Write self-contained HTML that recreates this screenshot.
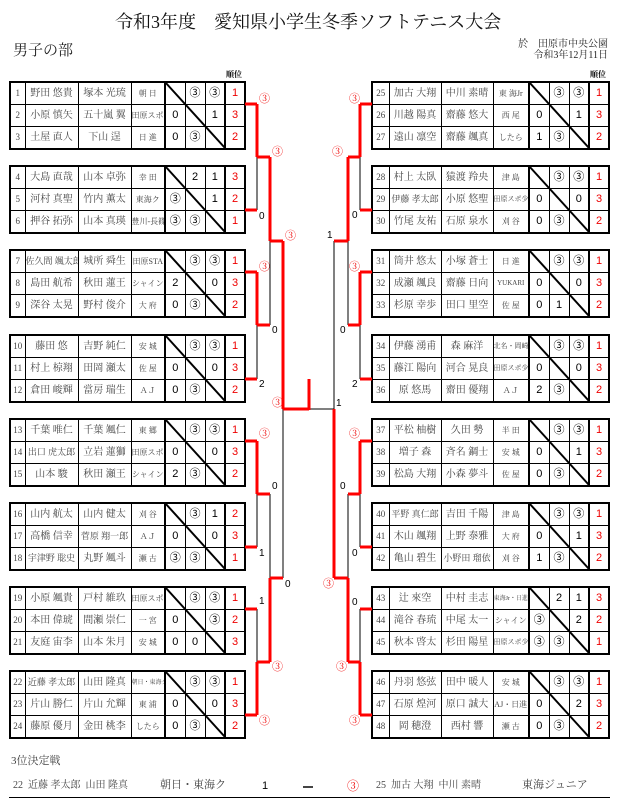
<!DOCTYPE html>
<html><head><meta charset="utf-8"><style>
body{margin:0;width:618px;height:811px;position:relative;background:#fff;overflow:hidden;font-family:"Liberation Serif","Noto Serif CJK JP","Noto Serif CJK SC",serif}
.a{position:absolute;white-space:nowrap;line-height:1}
.t{position:absolute;border-collapse:collapse;border:2px solid #000;table-layout:fixed}
.t td{border:1px solid #000;height:21px;padding:0;text-align:center;font-size:10px;color:#444;white-space:nowrap;overflow:hidden;line-height:1}
.t td.n{font-size:9px}
.t td.tm{font-size:8px}
.t td.c{font-family:"Liberation Sans","Noto Sans CJK JP",sans-serif;font-size:11px;color:#000}
.t td.c1{border-left:2px solid #000}
.t td.r{border-left:2px solid #000;font-family:"Liberation Sans",sans-serif;font-size:11px;color:#e00}
.red{color:#e00}
svg{position:absolute;left:0;top:0}
.l{font-family:"Liberation Sans","Noto Sans CJK JP",sans-serif;font-size:10px}
</style></head><body>
<div class="a" style="left:115px;top:13px;font-size:18px;color:#111">令和3年度　愛知県小学生冬季ソフトテニス大会</div>
<div class="a" style="left:13px;top:44px;font-size:15px;color:#222">男子の部</div>
<div class="a" style="right:10px;top:39px;font-size:10px;color:#222;text-align:right;line-height:11px">於　田原市中央公園<br>令和3年12月11日</div>
<div class="a" style="left:226px;top:71px;font-size:8px;font-weight:bold">順位</div>
<div class="a" style="left:590px;top:71px;font-size:8px;font-weight:bold">順位</div>

<!-- LEFT TABLES -->
<table class="t" style="left:9px;top:81px;width:237px"><colgroup><col style="width:15px"><col style="width:53px"><col style="width:53px"><col style="width:34px"><col style="width:20px"><col style="width:20px"><col style="width:20px"><col style="width:20px"></colgroup>
<tr><td class="n">1</td><td>野田 悠貴</td><td>塚本 光琉</td><td class="tm">朝 日</td><td class="c c1"></td><td class="c red">③</td><td class="c red">③</td><td class="r">1</td></tr>
<tr><td class="n">2</td><td>小原 慎矢</td><td>五十嵐 翼</td><td class="tm">田原スポ少</td><td class="c c1">0</td><td class="c"></td><td class="c">1</td><td class="r">3</td></tr>
<tr><td class="n">3</td><td>土屋 直人</td><td>下山 逞</td><td class="tm">日 進</td><td class="c c1">0</td><td class="c red">③</td><td class="c"></td><td class="r">2</td></tr></table>
<table class="t" style="left:9px;top:165px;width:237px"><colgroup><col style="width:15px"><col style="width:53px"><col style="width:53px"><col style="width:34px"><col style="width:20px"><col style="width:20px"><col style="width:20px"><col style="width:20px"></colgroup>
<tr><td class="n">4</td><td>大島 直哉</td><td>山本 卓弥</td><td class="tm">幸 田</td><td class="c c1"></td><td class="c">2</td><td class="c">1</td><td class="r">3</td></tr>
<tr><td class="n">5</td><td>河村 真聖</td><td>竹内 薫太</td><td class="tm">東海ク</td><td class="c c1 red">③</td><td class="c"></td><td class="c">1</td><td class="r">2</td></tr>
<tr><td class="n">6</td><td>押谷 拓弥</td><td>山本 真瑛</td><td class="tm">豊川-長篠</td><td class="c c1 red">③</td><td class="c red">③</td><td class="c"></td><td class="r">1</td></tr></table>
<table class="t" style="left:9px;top:249px;width:237px"><colgroup><col style="width:15px"><col style="width:53px"><col style="width:53px"><col style="width:34px"><col style="width:20px"><col style="width:20px"><col style="width:20px"><col style="width:20px"></colgroup>
<tr><td class="n">7</td><td style="font-size:9px">佐久間 颯太郎</td><td>城所 舜生</td><td class="tm">田原STA</td><td class="c c1"></td><td class="c red">③</td><td class="c red">③</td><td class="r">1</td></tr>
<tr><td class="n">8</td><td>島田 航希</td><td>秋田 蓮王</td><td class="tm">シャイン</td><td class="c c1">2</td><td class="c"></td><td class="c">0</td><td class="r">3</td></tr>
<tr><td class="n">9</td><td>深谷 太晃</td><td>野村 俊介</td><td class="tm">大 府</td><td class="c c1">0</td><td class="c red">③</td><td class="c"></td><td class="r">2</td></tr></table>
<table class="t" style="left:9px;top:334px;width:237px"><colgroup><col style="width:15px"><col style="width:53px"><col style="width:53px"><col style="width:34px"><col style="width:20px"><col style="width:20px"><col style="width:20px"><col style="width:20px"></colgroup>
<tr><td class="n">10</td><td>藤田 悠</td><td>吉野 純仁</td><td class="tm">安 城</td><td class="c c1"></td><td class="c red">③</td><td class="c red">③</td><td class="r">1</td></tr>
<tr><td class="n">11</td><td>村上 椋翔</td><td>田岡 瀬太</td><td class="tm">佐 屋</td><td class="c c1">0</td><td class="c"></td><td class="c">0</td><td class="r">3</td></tr>
<tr><td class="n">12</td><td>倉田 峻輝</td><td>當房 瑞生</td><td class="tm">ＡＪ</td><td class="c c1">0</td><td class="c red">③</td><td class="c"></td><td class="r">2</td></tr></table>
<table class="t" style="left:9px;top:418px;width:237px"><colgroup><col style="width:15px"><col style="width:53px"><col style="width:53px"><col style="width:34px"><col style="width:20px"><col style="width:20px"><col style="width:20px"><col style="width:20px"></colgroup>
<tr><td class="n">13</td><td>千葉 唯仁</td><td>千葉 颯仁</td><td class="tm">東 郷</td><td class="c c1"></td><td class="c red">③</td><td class="c red">③</td><td class="r">1</td></tr>
<tr><td class="n">14</td><td style="font-size:9px">出口 虎太郎</td><td>立岩 蓮獅</td><td class="tm">田原スポ少</td><td class="c c1">0</td><td class="c"></td><td class="c">0</td><td class="r">3</td></tr>
<tr><td class="n">15</td><td>山本 駿</td><td>秋田 瀬王</td><td class="tm">シャイン</td><td class="c c1">2</td><td class="c red">③</td><td class="c"></td><td class="r">2</td></tr></table>
<table class="t" style="left:9px;top:502px;width:237px"><colgroup><col style="width:15px"><col style="width:53px"><col style="width:53px"><col style="width:34px"><col style="width:20px"><col style="width:20px"><col style="width:20px"><col style="width:20px"></colgroup>
<tr><td class="n">16</td><td>山内 航太</td><td>山内 健太</td><td class="tm">刈 谷</td><td class="c c1"></td><td class="c red">③</td><td class="c">1</td><td class="r">2</td></tr>
<tr><td class="n">17</td><td>高橋 信幸</td><td style="font-size:9px">菅原 翔一郎</td><td class="tm">ＡＪ</td><td class="c c1">0</td><td class="c"></td><td class="c">0</td><td class="r">3</td></tr>
<tr><td class="n">18</td><td style="font-size:9px">宇津野 聡史</td><td>丸野 颯斗</td><td class="tm">瀬 古</td><td class="c c1 red">③</td><td class="c red">③</td><td class="c"></td><td class="r">1</td></tr></table>
<table class="t" style="left:9px;top:586px;width:237px"><colgroup><col style="width:15px"><col style="width:53px"><col style="width:53px"><col style="width:34px"><col style="width:20px"><col style="width:20px"><col style="width:20px"><col style="width:20px"></colgroup>
<tr><td class="n">19</td><td>小原 颯貴</td><td>戸村 維玖</td><td class="tm">田原スポ少</td><td class="c c1"></td><td class="c red">③</td><td class="c red">③</td><td class="r">1</td></tr>
<tr><td class="n">20</td><td>本田 偉琥</td><td>間瀬 崇仁</td><td class="tm">一 宮</td><td class="c c1">0</td><td class="c"></td><td class="c red">③</td><td class="r">2</td></tr>
<tr><td class="n">21</td><td>友庭 宙李</td><td>山本 朱月</td><td class="tm">安 城</td><td class="c c1">0</td><td class="c">0</td><td class="c"></td><td class="r">3</td></tr></table>
<table class="t" style="left:9px;top:670px;width:237px"><colgroup><col style="width:15px"><col style="width:53px"><col style="width:53px"><col style="width:34px"><col style="width:20px"><col style="width:20px"><col style="width:20px"><col style="width:20px"></colgroup>
<tr><td class="n">22</td><td style="font-size:9px">近藤 孝太郎</td><td>山田 隆真</td><td class="tm" style="font-size:6px">朝日・東海ク</td><td class="c c1"></td><td class="c red">③</td><td class="c red">③</td><td class="r">1</td></tr>
<tr><td class="n">23</td><td>片山 勝仁</td><td>片山 允輝</td><td class="tm">東 浦</td><td class="c c1">0</td><td class="c"></td><td class="c">0</td><td class="r">3</td></tr>
<tr><td class="n">24</td><td>藤原 優月</td><td>金田 桃李</td><td class="tm">したら</td><td class="c c1">0</td><td class="c red">③</td><td class="c"></td><td class="r">2</td></tr></table>

<!-- RIGHT TABLES -->
<table class="t" style="left:371px;top:81px;width:239px"><colgroup><col style="width:17px"><col style="width:52px"><col style="width:52px"><col style="width:36px"><col style="width:20px"><col style="width:20px"><col style="width:20px"><col style="width:20px"></colgroup>
<tr><td class="n">25</td><td>加古 大翔</td><td>中川 素晴</td><td class="tm">東 海Jr</td><td class="c c1"></td><td class="c red">③</td><td class="c red">③</td><td class="r">1</td></tr>
<tr><td class="n">26</td><td>川越 陽真</td><td>齋藤 悠大</td><td class="tm">西 尾</td><td class="c c1">0</td><td class="c"></td><td class="c">1</td><td class="r">3</td></tr>
<tr><td class="n">27</td><td>遠山 凛空</td><td>齋藤 颯真</td><td class="tm">したら</td><td class="c c1">1</td><td class="c red">③</td><td class="c"></td><td class="r">2</td></tr></table>
<table class="t" style="left:371px;top:165px;width:239px"><colgroup><col style="width:17px"><col style="width:52px"><col style="width:52px"><col style="width:36px"><col style="width:20px"><col style="width:20px"><col style="width:20px"><col style="width:20px"></colgroup>
<tr><td class="n">28</td><td>村上 太臥</td><td>猿渡 羚央</td><td class="tm">津 島</td><td class="c c1"></td><td class="c red">③</td><td class="c red">③</td><td class="r">1</td></tr>
<tr><td class="n">29</td><td style="font-size:9px">伊藤 孝太郎</td><td>小原 悠聖</td><td class="tm" style="font-size:7px">田原スポ少</td><td class="c c1">0</td><td class="c"></td><td class="c">0</td><td class="r">3</td></tr>
<tr><td class="n">30</td><td>竹尾 友祐</td><td>石原 泉水</td><td class="tm">刈 谷</td><td class="c c1">0</td><td class="c red">③</td><td class="c"></td><td class="r">2</td></tr></table>
<table class="t" style="left:371px;top:249px;width:239px"><colgroup><col style="width:17px"><col style="width:52px"><col style="width:52px"><col style="width:36px"><col style="width:20px"><col style="width:20px"><col style="width:20px"><col style="width:20px"></colgroup>
<tr><td class="n">31</td><td>筒井 悠太</td><td>小塚 蒼士</td><td class="tm">日 進</td><td class="c c1"></td><td class="c red">③</td><td class="c red">③</td><td class="r">1</td></tr>
<tr><td class="n">32</td><td>成瀬 颯良</td><td>齋藤 日向</td><td class="tm" style="font-size:7px">YUKARI</td><td class="c c1">0</td><td class="c"></td><td class="c">0</td><td class="r">3</td></tr>
<tr><td class="n">33</td><td>杉原 幸歩</td><td>田口 里空</td><td class="tm">佐 屋</td><td class="c c1">0</td><td class="c">1</td><td class="c"></td><td class="r">2</td></tr></table>
<table class="t" style="left:371px;top:334px;width:239px"><colgroup><col style="width:17px"><col style="width:52px"><col style="width:52px"><col style="width:36px"><col style="width:20px"><col style="width:20px"><col style="width:20px"><col style="width:20px"></colgroup>
<tr><td class="n">34</td><td>伊藤 湧甫</td><td>森 麻洋</td><td class="tm" style="font-size:7px">北名・岡崎</td><td class="c c1"></td><td class="c red">③</td><td class="c red">③</td><td class="r">1</td></tr>
<tr><td class="n">35</td><td>藤江 陽向</td><td>河合 晃良</td><td class="tm" style="font-size:7px">田原スポ少</td><td class="c c1">0</td><td class="c"></td><td class="c">0</td><td class="r">3</td></tr>
<tr><td class="n">36</td><td>原 悠馬</td><td>齋田 優翔</td><td class="tm">ＡＪ</td><td class="c c1">2</td><td class="c red">③</td><td class="c"></td><td class="r">2</td></tr></table>
<table class="t" style="left:371px;top:418px;width:239px"><colgroup><col style="width:17px"><col style="width:52px"><col style="width:52px"><col style="width:36px"><col style="width:20px"><col style="width:20px"><col style="width:20px"><col style="width:20px"></colgroup>
<tr><td class="n">37</td><td>平松 柚樹</td><td>久田 勢</td><td class="tm">半 田</td><td class="c c1"></td><td class="c red">③</td><td class="c red">③</td><td class="r">1</td></tr>
<tr><td class="n">38</td><td>増子 森</td><td>斉名 鋼士</td><td class="tm">安 城</td><td class="c c1">0</td><td class="c"></td><td class="c">1</td><td class="r">3</td></tr>
<tr><td class="n">39</td><td>松島 大翔</td><td>小森 夢斗</td><td class="tm">佐 屋</td><td class="c c1">0</td><td class="c red">③</td><td class="c"></td><td class="r">2</td></tr></table>
<table class="t" style="left:371px;top:502px;width:239px"><colgroup><col style="width:17px"><col style="width:52px"><col style="width:52px"><col style="width:36px"><col style="width:20px"><col style="width:20px"><col style="width:20px"><col style="width:20px"></colgroup>
<tr><td class="n">40</td><td style="font-size:9px">平野 真仁郎</td><td>吉田 千陽</td><td class="tm">津 島</td><td class="c c1"></td><td class="c red">③</td><td class="c red">③</td><td class="r">1</td></tr>
<tr><td class="n">41</td><td>木山 颯翔</td><td>上野 泰雅</td><td class="tm">大 府</td><td class="c c1">0</td><td class="c"></td><td class="c">1</td><td class="r">3</td></tr>
<tr><td class="n">42</td><td>亀山 碧生</td><td style="font-size:9px">小野田 瑠依</td><td class="tm">刈 谷</td><td class="c c1">1</td><td class="c red">③</td><td class="c"></td><td class="r">2</td></tr></table>
<table class="t" style="left:371px;top:586px;width:239px"><colgroup><col style="width:17px"><col style="width:52px"><col style="width:52px"><col style="width:36px"><col style="width:20px"><col style="width:20px"><col style="width:20px"><col style="width:20px"></colgroup>
<tr><td class="n">43</td><td>辻 來空</td><td>中村 圭志</td><td class="tm" style="font-size:6px">東海Jr・日進</td><td class="c c1"></td><td class="c">2</td><td class="c">1</td><td class="r">3</td></tr>
<tr><td class="n">44</td><td>滝谷 春琉</td><td>中尾 太一</td><td class="tm">シャイン</td><td class="c c1 red">③</td><td class="c"></td><td class="c">2</td><td class="r">2</td></tr>
<tr><td class="n">45</td><td>秋本 啓太</td><td>杉田 陽星</td><td class="tm" style="font-size:7px">田原スポ少</td><td class="c c1 red">③</td><td class="c red">③</td><td class="c"></td><td class="r">1</td></tr></table>
<table class="t" style="left:371px;top:670px;width:239px"><colgroup><col style="width:17px"><col style="width:52px"><col style="width:52px"><col style="width:36px"><col style="width:20px"><col style="width:20px"><col style="width:20px"><col style="width:20px"></colgroup>
<tr><td class="n">46</td><td>丹羽 悠弦</td><td>田中 暖人</td><td class="tm">安 城</td><td class="c c1"></td><td class="c red">③</td><td class="c red">③</td><td class="r">1</td></tr>
<tr><td class="n">47</td><td>石原 煌河</td><td>原口 誠大</td><td class="tm">AJ・日進</td><td class="c c1">0</td><td class="c"></td><td class="c">2</td><td class="r">3</td></tr>
<tr><td class="n">48</td><td>岡 穂澄</td><td>西村 響</td><td class="tm">瀬 古</td><td class="c c1">0</td><td class="c red">③</td><td class="c"></td><td class="r">2</td></tr></table>

<svg width="618" height="811" viewBox="0 0 618 811">
<g stroke="#000" stroke-width="2">
<line x1="165" y1="82" x2="225" y2="148"/><line x1="165" y1="166" x2="225" y2="232"/><line x1="165" y1="250" x2="225" y2="316"/><line x1="165" y1="335" x2="225" y2="401"/><line x1="165" y1="419" x2="225" y2="485"/><line x1="165" y1="503" x2="225" y2="569"/><line x1="165" y1="587" x2="225" y2="653"/><line x1="165" y1="671" x2="225" y2="737"/>
<line x1="529" y1="82" x2="589" y2="148"/><line x1="529" y1="166" x2="589" y2="232"/><line x1="529" y1="250" x2="589" y2="316"/><line x1="529" y1="335" x2="589" y2="401"/><line x1="529" y1="419" x2="589" y2="485"/><line x1="529" y1="503" x2="589" y2="569"/><line x1="529" y1="587" x2="589" y2="653"/><line x1="529" y1="671" x2="589" y2="737"/>
</g>
<g stroke="#000" stroke-width="1" fill="none">
<path d="M257 157V210M257 325V379M257 494V547M257 609V662"/>
<path d="M270 241V325M270 494V578M283 409V578M309 409H334"/>
<path d="M360 157V210M360 325V379M360 494V547M360 609V662"/>
<path d="M348 241V325M348 494V578M334 241V409"/>
</g>
<g stroke="#f00" stroke-width="3" fill="none">
<path d="M245 104H257M245 210H257M245 272H257M245 379H257M245 441H257M245 547H257M245 609H257M245 715H257"/>
<path d="M257 104V157M257 272V325M257 441V494M257 662V715"/>
<path d="M257 157H270M257 325H270M257 494H270M257 662H270"/>
<path d="M270 157V241M270 578V662M270 241H283M270 578H283M283 241V409M283 409H309M309 379V410"/>
<path d="M360 104H372M360 210H372M360 272H372M360 379H372M360 441H372M360 547H372M360 609H372M360 715H372"/>
<path d="M360 104V157M360 272V325M360 441V494M360 662V715"/>
<path d="M348 157H360M348 325H360M348 494H360M348 662H360"/>
<path d="M348 157V241M348 578V662M334 241H348M334 578H348M334 409V578"/>
</g>
</svg>
<!-- bracket labels -->
<div class="a red" style="left:259px;top:94px;font-size:11px">③</div>
<div class="a red" style="left:272px;top:147px;font-size:11px">③</div>
<div class="a red" style="left:285px;top:231px;font-size:11px">③</div>
<div class="a l" style="left:259px;top:212px">0</div>
<div class="a red" style="left:259px;top:262px;font-size:11px">③</div>
<div class="a l" style="left:272px;top:326px">0</div>
<div class="a l" style="left:259px;top:380px">2</div>
<div class="a red" style="left:272px;top:398px;font-size:11px">③</div>
<div class="a red" style="left:259px;top:429px;font-size:11px">③</div>
<div class="a l" style="left:272px;top:482px">0</div>
<div class="a l" style="left:259px;top:549px">1</div>
<div class="a l" style="left:285px;top:580px">0</div>
<div class="a l" style="left:259px;top:597px">1</div>
<div class="a red" style="left:272px;top:662px;font-size:11px">③</div>
<div class="a red" style="left:259px;top:716px;font-size:11px">③</div>

<div class="a red" style="left:349px;top:94px;font-size:11px">③</div>
<div class="a red" style="left:332px;top:147px;font-size:11px">③</div>
<div class="a l" style="left:352px;top:211px">0</div>
<div class="a l" style="left:327px;top:231px">1</div>
<div class="a red" style="left:349px;top:262px;font-size:11px">③</div>
<div class="a l" style="left:340px;top:326px">0</div>
<div class="a l" style="left:352px;top:380px">2</div>
<div class="a l" style="left:336px;top:399px">1</div>
<div class="a red" style="left:349px;top:429px;font-size:11px">③</div>
<div class="a l" style="left:340px;top:482px">0</div>
<div class="a l" style="left:352px;top:549px">0</div>
<div class="a red" style="left:323px;top:579px;font-size:11px">③</div>
<div class="a l" style="left:352px;top:598px">0</div>
<div class="a red" style="left:336px;top:662px;font-size:11px">③</div>
<div class="a red" style="left:349px;top:716px;font-size:11px">③</div>

<!-- 3rd place -->
<div class="a" style="left:11px;top:756px;font-size:11px;color:#444">3位決定戦</div>
<div class="a" style="left:13px;top:781px;font-size:10px;color:#444">22&nbsp; 近藤 孝太郎&nbsp; 山田 隆真</div>
<div class="a" style="left:160px;top:780px;font-size:11px;color:#444">朝日・東海ク</div>
<div class="a l" style="left:262px;top:781px;font-size:11px">1</div>
<div class="a" style="left:303px;top:786px;width:10px;height:2px;background:#444"></div>
<div class="a red" style="left:347px;top:780px;font-size:12px">③</div>
<div class="a" style="left:376px;top:781px;font-size:10px;color:#444">25&nbsp; 加古 大翔&nbsp; 中川 素晴</div>
<div class="a" style="left:522px;top:780px;font-size:11px;color:#444">東海ジュニア</div>
<div class="a" style="left:9px;top:797px;width:601px;height:1px;background:#000"></div>
</body></html>
